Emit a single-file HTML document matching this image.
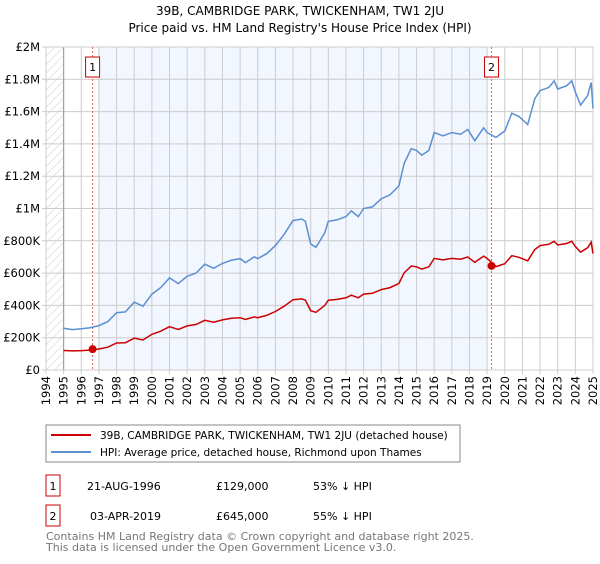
<!DOCTYPE html>
<html><head><meta charset="utf-8"><style>
body{margin:0;background:#fff;font-family:"DejaVu Sans","Liberation Sans",sans-serif;}
svg text{font-family:"DejaVu Sans","Liberation Sans",sans-serif;}
</style></head><body>
<svg width="600" height="560" xmlns="http://www.w3.org/2000/svg">
<defs><pattern id="hatch" width="6" height="6" patternUnits="userSpaceOnUse" patternTransform="rotate(45)"><line x1="0" y1="0" x2="0" y2="6" stroke="#ccc" stroke-width="1"/></pattern></defs>
<text x="300" y="15" text-anchor="middle" font-size="12">39B, CAMBRIDGE PARK, TWICKENHAM, TW1 2JU</text>
<text x="300" y="32" text-anchor="middle" font-size="12">Price paid vs. HM Land Registry's House Price Index (HPI)</text>
<g id="plot"></g>
<rect x="46" y="425" width="414" height="37" fill="#fff" stroke="#888"/>
<line x1="51" y1="435" x2="91" y2="435" stroke="#cc0000" stroke-width="2"/>
<text x="100" y="439" font-size="10.5">39B, CAMBRIDGE PARK, TWICKENHAM, TW1 2JU (detached house)</text>
<line x1="51" y1="452" x2="91" y2="452" stroke="#5b8fd0" stroke-width="2"/>
<text x="100" y="456" font-size="10.5">HPI: Average price, detached house, Richmond upon Thames</text>
<rect x="46" y="475" width="14" height="21" fill="#fff" stroke="#cc0000"/>
<text x="53" y="490" text-anchor="middle" font-size="11">1</text>
<text x="87" y="490" font-size="11">21-AUG-1996</text>
<text x="216" y="490" font-size="11">£129,000</text>
<text x="313" y="490" font-size="11">53% ↓ HPI</text>
<rect x="46" y="505" width="14" height="21" fill="#fff" stroke="#cc0000"/>
<text x="53" y="520" text-anchor="middle" font-size="11">2</text>
<text x="90" y="520" font-size="11">03-APR-2019</text>
<text x="216" y="520" font-size="11">£645,000</text>
<text x="313" y="520" font-size="11">55% ↓ HPI</text>
<text x="46" y="540" font-size="11" fill="#777">Contains HM Land Registry data © Crown copyright and database right 2025.</text>
<text x="46" y="551" font-size="11" fill="#777">This data is licensed under the Open Government Licence v3.0.</text>
</svg>
<script>
const hpiYears=[1995,1995.5,1996,1996.5,1997,1997.5,1998,1998.5,1999,1999.5,2000,2000.5,2001,2001.5,2002,2002.5,2003,2003.5,2004,2004.5,2005,2005.3,2005.8,2006,2006.5,2007,2007.5,2008,2008.5,2008.7,2009,2009.3,2009.8,2010,2010.5,2011,2011.3,2011.7,2012,2012.5,2013,2013.5,2014,2014.3,2014.7,2015,2015.3,2015.7,2016,2016.5,2017,2017.5,2017.9,2018.3,2018.8,2019,2019.5,2020,2020.4,2020.8,2021.3,2021.7,2022,2022.5,2022.8,2023,2023.5,2023.8,2024,2024.3,2024.7,2024.9,2025];
const hpiValues=[258,250,255,262,275,300,355,360,420,395,470,510,570,535,580,600,655,630,660,680,690,665,700,690,720,770,840,925,935,920,780,760,850,920,930,950,985,950,1000,1010,1060,1085,1140,1280,1370,1360,1330,1360,1470,1450,1470,1460,1490,1420,1500,1470,1440,1480,1590,1570,1520,1680,1730,1750,1790,1740,1760,1790,1720,1640,1700,1780,1620];
const priceValues=[121,118,120,123,130,141,167,169,197,186,221,240,268,251,273,282,308,296,310,320,324,313,329,324,338,362,395,435,440,432,367,357,400,432,437,447,463,447,470,475,498,510,536,602,644,639,625,639,691,682,691,686,700,667,705,691,640,658,708,698,676,746,770,779,797,774,783,797,765,730,757,792,721];
const sales=[{n:"1",year:1996.64,value:129},{n:"2",year:2019.25,value:645}];
const yTicks=[0,200,400,600,800,1000,1200,1400,1600,1800,2000];
const yTickLabels=["£0","£200K","£400K","£600K","£800K","£1M","£1.2M","£1.4M","£1.6M","£1.8M","£2M"];
const xTicks=[];for(let y=1994;y<=2025;y++)xTicks.push(y);

const L=46,R=593,T=47,B=370,x0=1994,x1=2025;
const X=v=>L+(v-x0)/(x1-x0)*(R-L);
const Y=v=>B-v/2000*(B-T);
const NS="http://www.w3.org/2000/svg";
const g=document.getElementById("plot");
function mk(tag,attrs,parent){const e=document.createElementNS(NS,tag);for(const k in attrs)e.setAttribute(k,attrs[k]);(parent||g).appendChild(e);return e;}
let e;
e=mk("rect",{x:L,y:T,width:R-L,height:B-T,fill:"#fff"});


e=mk("rect",{x:X(1997),y:T,width:X(2019)-X(1997),height:B-T,fill:"#f2f6fe"});


e=mk("rect",{x:L,y:T,width:X(1995)-L,height:B-T,fill:"url(#hatch)"});


xTicks.forEach(t=>{
 e=mk("line",{x1:X(t),x2:X(t),y1:T,y2:B+4,stroke:"#ccc","stroke-width":1});
 
 
 e=mk("text",{x:0,y:0,transform:`translate(${X(t)+4},${B+6}) rotate(-90)`,"text-anchor":"end","font-size":"11.5"});
 e.textContent=t;
 
 
});
yTicks.forEach((t,i)=>{
 e=mk("line",{x1:L-4,x2:R,y1:Y(t),y2:Y(t),stroke:"#ccc","stroke-width":1});
 
 
 e=mk("text",{x:40,y:Y(t)+4,"text-anchor":"end","font-size":"11.5"});
 e.textContent=yTickLabels[i];
 
 
});
e=mk("line",{x1:X(1995),x2:X(1995),y1:T,y2:B,stroke:"#999"});


e=mk("rect",{x:L,y:T,width:R-L,height:B-T,fill:"none",stroke:"#ccc"});


sales.forEach(s=>{
 e=mk("line",{x1:X(s.year),x2:X(s.year),y1:T,y2:B,stroke:"#e06060","stroke-dasharray":"2,2","stroke-width":1});
 
 
 e=mk("rect",{x:X(s.year)-7,y:T+10,width:14,height:20,fill:"#fff",stroke:"#cc0000"});
 
 
 e=mk("text",{x:X(s.year),y:T+24,"text-anchor":"middle","font-size":"11"});
 e.textContent=s.n;
 
 
});
const pts=(vals)=>hpiYears.map((yr,i)=>X(yr).toFixed(1)+","+Y(vals[i]).toFixed(1)).join(" ");
e=mk("polyline",{points:pts(hpiValues),fill:"none",stroke:"#5b8fd0","stroke-width":1.5});


e=mk("polyline",{points:pts(priceValues),fill:"none",stroke:"#cc0000","stroke-width":1.5});


sales.forEach(s=>{
 e=mk("circle",{cx:X(s.year),cy:Y(s.value),r:4,fill:"#cc0000"});
 
 
});
</script>
</body></html>
